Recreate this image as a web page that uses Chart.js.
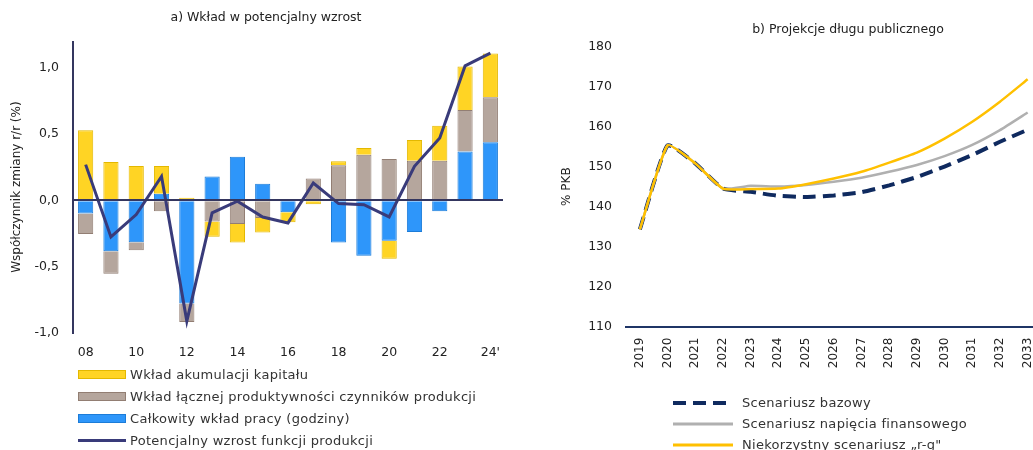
<!DOCTYPE html>
<html><head><meta charset="utf-8">
<script src="https://cdn.jsdelivr.net/npm/chart.js@4.4.1/dist/chart.umd.min.js"></script>
<style>
html,body{margin:0;padding:0;width:1033px;height:450px;overflow:hidden;background:#fff;font-family:"DejaVu Sans",sans-serif;}
#leftWrap{position:absolute;left:0;top:0;width:520px;height:450px;}
#rightWrap{position:absolute;left:555px;top:0;width:500px;height:450px;}
.title{position:absolute;font-family:"DejaVu Sans",sans-serif;font-size:12.5px;color:#222;white-space:nowrap;transform:translate(-50%,-50%);}
.legend{position:absolute;font-family:"DejaVu Sans",sans-serif;font-size:13px;letter-spacing:0.3px;color:#333;}
.legend .row{display:flex;align-items:center;white-space:nowrap;}
.sw{display:inline-block;box-sizing:border-box;}
</style>
</head><body>
<div id="leftWrap"><canvas id="left" width="520" height="450"></canvas></div>
<div id="rightWrap"><canvas id="right" width="500" height="450"></canvas></div>
<div class="title" style="left:266px;top:16px;">a) Wkład w potencjalny wzrost</div>
<div class="title" style="left:848px;top:28px;">b) Projekcje długu publicznego</div>
<div class="legend" id="legL" style="left:78px;top:363px;"></div>
<div class="legend" id="legR" style="left:673px;top:392px;"></div>
<script>
// ---- Panel a) data ----
const years = ['08','09','10','11','12','13','14','15','16','17','18','19','20','21','22','23',"24'"];
const labour = [-0.10,-0.385,-0.317,0.05,-0.78,0.18,0.33,0.126,-0.09,0,-0.32,-0.42,-0.305,-0.24,-0.083,0.37,0.44];
const tfp = [-0.155,-0.17,-0.06,-0.083,-0.14,-0.16,-0.18,-0.133,0,0.165,0.265,0.345,0.313,0.30,0.30,0.313,0.34];
const capital = [0.53,0.29,0.26,0.21,0.02,-0.115,-0.14,-0.11,-0.075,-0.03,0.03,0.05,-0.138,0.156,0.265,0.33,0.33];
const potential = [0.27,-0.277,-0.108,0.18,-0.914,-0.095,-0.007,-0.126,-0.171,0.131,-0.025,-0.033,-0.126,0.257,0.471,1.017,1.113];

// ---- Panel b) data ----
const projYears = ['2019','2020','2021','2022','2023','2024','2025','2026','2027','2028','2029','2030','2031','2032','2033'];
const baseline = [134.3,155.3,150.8,144.5,143.7,142.7,142.4,142.8,143.6,145.3,147.4,150.0,152.9,156.2,159.2];
const stress   = [134.3,155.3,150.8,144.5,145.2,145.0,145.4,146.2,147.2,148.7,150.4,152.6,155.4,159.1,163.5];
const adverse  = [134.3,155.3,150.8,144.5,144.4,144.5,145.6,147.0,148.7,151.0,153.5,157.0,161.2,166.2,171.8];

const C = {
  yellow:'#FFD424', yellowB:'#E3B800',
  grey:'#B5A69D', greyB:'#927E73',
  blue:'#2E96FA', blueB:'#1C7CD8',
  navyLine:'#393B7A', axis:'#34365F',
  dash:'#0F2A5F', lgrey:'#B0B0B0', gold:'#FFC000'
};
Chart.defaults.font.family = '"DejaVu Sans", sans-serif';
Chart.defaults.font.size = 12;
Chart.defaults.color = '#222';
Chart.defaults.animation = false;

const fmt = v => {
  if (Math.abs(v*2 - Math.round(v*2)) > 1e-6) return '';
  return v.toFixed(1).replace('.', ',').replace('-0,0','0,0');
};

new Chart(document.getElementById('left'), {
  type: 'bar',
  data: {
    labels: years,
    datasets: [
      {label:'Całkowity wkład pracy (godziny)', data: labour, backgroundColor:C.blue, borderColor:C.blueB, borderWidth:1},
      {label:'Wkład łącznej produktywności czynników produkcji', data: tfp, backgroundColor:C.grey, borderColor:C.greyB, borderWidth:1},
      {label:'Wkład akumulacji kapitału', data: capital, backgroundColor:C.yellow, borderColor:C.yellowB, borderWidth:1},
      {type:'line', label:'Potencjalny wzrost funkcji produkcji', data: potential, borderColor:C.navyLine, borderWidth:3, pointRadius:0, tension:0, order:-1}
    ]
  },
  options: {
    responsive:false,
    layout:{padding:{top:41.7, right:17, left:0, bottom:0}},
    datasets:{bar:{categoryPercentage:1, barPercentage:0.6}},
    plugins:{legend:{display:false}, tooltip:{enabled:false}},
    scales:{
      x:{stacked:true, grid:{display:false, drawTicks:false}, border:{display:false},
         ticks:{autoSkip:false, maxRotation:0, padding:13, font:{size:12.5},
                callback:(v,i)=> i%2===0 ? years[i] : ''},
         afterFit:s=>{s.height = 117.5;}},
      y:{stacked:true, min:-1, max:1.2,
         ticks:{stepSize:0.5, padding:14, font:{size:12.5}, callback:fmt},
         grid:{drawTicks:false, z:1, lineWidth:2, color:c=> (c.tick && c.tick.value===0) ? C.axis : 'rgba(0,0,0,0)'},
         border:{display:true, color:C.axis, width:2, z:2},
         title:{display:true, text:'Współczynnik zmiany r/r (%)', font:{size:12}, padding:{top:10,bottom:0}},
         afterFit:s=>{s.width = 73;}}
    }
  }
});

new Chart(document.getElementById('right'), {
  type:'line',
  data:{
    labels: projYears,
    datasets:[
      {label:'Scenariusz bazowy', data: baseline, borderColor:C.dash, borderWidth:4, borderDash:[13,7], pointRadius:0, tension:0.15, order:2},
      {label:'Scenariusz napięcia finansowego', data: stress, borderColor:C.lgrey, borderWidth:2.5, pointRadius:0, tension:0.15, order:1},
      {label:'Niekorzystny scenariusz „r-g"', data: adverse, borderColor:C.gold, borderWidth:2.5, pointRadius:0, tension:0.15, order:0}
    ]
  },
  options:{
    responsive:false,
    layout:{padding:{top:46.5, right:13.5, left:0, bottom:0}},
    plugins:{legend:{display:false}, tooltip:{enabled:false}},
    scales:{
      x:{offset:true, grid:{display:false, drawTicks:false}, border:{display:true, color:'#1F3566', width:2},
         ticks:{autoSkip:false, minRotation:90, maxRotation:90, padding:11, font:{size:12}},
         afterFit:s=>{s.height = 123.3;}},
      y:{min:110, max:180, ticks:{stepSize:10, padding:14, font:{size:12.5}},
         grid:{display:false, drawTicks:false}, border:{display:false},
         title:{display:true, text:'% PKB', font:{size:12}, padding:{top:5,bottom:0}},
         afterFit:s=>{s.width = 71;}}
    }
  }
});

// HTML legends
const legL = document.getElementById('legL');
[['Wkład akumulacji kapitału',C.yellow,C.yellowB],
 ['Wkład łącznej produktywności czynników produkcji',C.grey,C.greyB],
 ['Całkowity wkład pracy (godziny)',C.blue,C.blueB]].forEach(([t,f,b])=>{
  legL.insertAdjacentHTML('beforeend', `<div class="row" style="height:22px"><span class="sw" style="width:48px;height:9px;margin-right:4px;background:${f};border:1px solid ${b}"></span>${t}</div>`);
});
legL.insertAdjacentHTML('beforeend', `<div class="row" style="height:22px"><span class="sw" style="width:48px;height:3px;margin-right:4px;background:${C.navyLine}"></span>Potencjalny wzrost funkcji produkcji</div>`);

const legR = document.getElementById('legR');
[['Scenariusz bazowy',C.dash,4,'13 7'],['Scenariusz napięcia finansowego',C.lgrey,3,''],['Niekorzystny scenariusz „r-g"',C.gold,3,'']].forEach(([t,c,w,d])=>{
  legR.insertAdjacentHTML('beforeend', `<div class="row" style="height:21px"><svg width="60" height="8" style="margin-right:9px"><line x1="0" y1="4" x2="60" y2="4" stroke="${c}" stroke-width="${w}" ${d?`stroke-dasharray="${d}"`:''}/></svg>${t}</div>`);
});
</script>
</body></html>
